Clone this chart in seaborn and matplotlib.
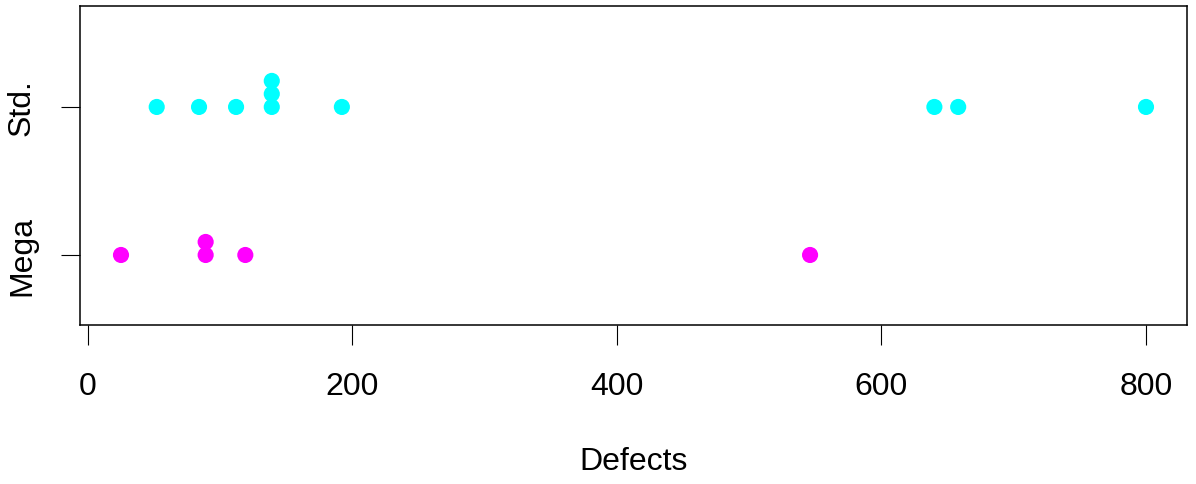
import numpy as np
import pandas as pd
import matplotlib
matplotlib.use("Agg")
import matplotlib.pyplot as plt
import seaborn as sns

# Data
groups = ["Mega", "Std."]
mega_defects = [25, 89, 89, 119, 546]
std_defects = [52, 84, 112, 139, 139, 139, 192, 640, 658, 800]
colors = {"Mega": "#FF00FF", "Std.": "#00FFFF"}
x_ticks = [0, 200, 400, 600, 800]

sns.set_theme(style="white")
plt.rcParams["font.family"] = ["Liberation Sans", "DejaVu Sans"]

# stacked strip chart: repeated values are stacked upward
stack_step = 0.088
rows = []
for gi, (g, vals) in enumerate(zip(groups, [mega_defects, std_defects])):
    seen = {}
    for v in vals:
        k = seen.get(v, 0)
        seen[v] = k + 1
        rows.append({"Defects": v, "group": g, "pos": gi + 1 + k * stack_step})
df = pd.DataFrame(rows)

fig = plt.figure(figsize=(11.96, 4.85), dpi=100)
ax = fig.add_axes([80 / 1196, 1 - 326 / 485, 1107 / 1196, 318.7 / 485])

sns.scatterplot(data=df, x="Defects", y="pos", hue="group", palette=colors,
                s=135, linewidth=0, legend=False, ax=ax, zorder=3)

ax.set_xlim(-6, 831)
ax.set_ylim(0.527, 2.68)
ax.set_xticks(x_ticks)
ax.set_xticklabels([str(t) for t in x_ticks])
ax.set_yticks([1, 2])
ax.set_yticklabels(groups, rotation=90, va="center")

for sp in ax.spines.values():
    sp.set_visible(True)
    sp.set_color("black")
    sp.set_linewidth(1.1)

ax.tick_params(axis="x", direction="out", length=14.4, width=0.8, pad=19,
               labelsize=23, colors="black", bottom=True)
ax.tick_params(axis="y", direction="out", length=13.5, width=0.8, pad=17.5,
               labelsize=23, colors="black", left=True)

ax.set_ylabel("")
ax.set_xlabel("Defects", fontsize=23, color="black")
ax.xaxis.set_label_coords(0.5, (326 - 462.5) / 318.7)
ax.xaxis.label.set_va("center")
ax.grid(False)

fig.savefig("out.png", dpi=100, facecolor="white")
